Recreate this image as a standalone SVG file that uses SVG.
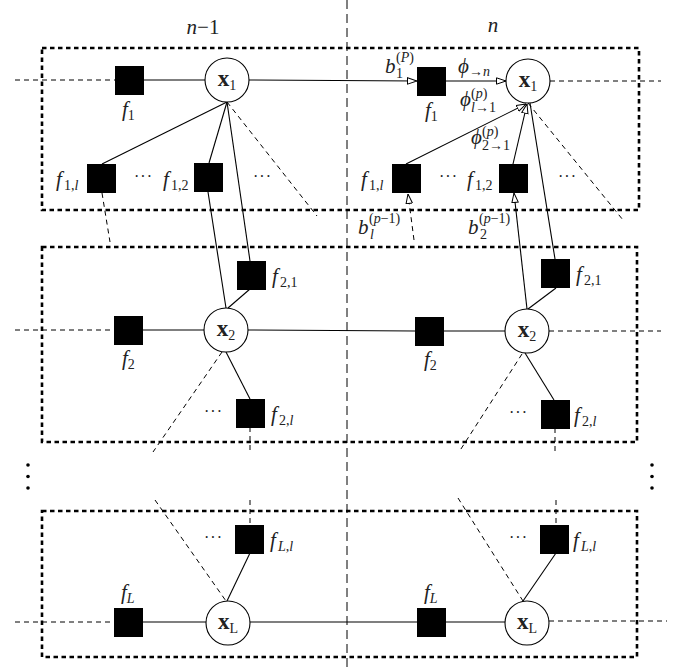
<svg xmlns="http://www.w3.org/2000/svg" width="686" height="672" viewBox="0 0 686 672">
<style>
.box{fill:none;stroke:#000;stroke-width:2.6;stroke-dasharray:4.5 3.5}
.sq{fill:#000}
.cn{fill:#fff;stroke:#000;stroke-width:1.1}
.ln{stroke:#000;stroke-width:1.1;fill:none}
.dl{stroke:#000;stroke-width:1;stroke-dasharray:5 4;fill:none}
.mid{stroke:#000;stroke-width:1;stroke-dasharray:9 5;fill:none}
.t{font-family:"Liberation Serif","DejaVu Serif",serif;font-size:21px;font-style:italic;fill:#222}
.s{font-size:14px}
.u{font-style:normal}
.bx{font-weight:bold;font-style:normal;font-size:23px}
.dots{font-family:"Liberation Serif","DejaVu Serif",serif;font-size:16px;fill:#222;letter-spacing:1px}
</style>
<defs>
<marker id="ah" viewBox="0 0 10 8" refX="10" refY="4" markerWidth="10" markerHeight="8" orient="auto" markerUnits="userSpaceOnUse">
<path d="M0.5,0.8 L10,4 L0.5,7.2 Z" fill="#fff" stroke="#000" stroke-width="1"/>
</marker>
</defs>

<line class="mid" x1="347" y1="0" x2="347" y2="672"/>
<text class="t" x="203" y="34" text-anchor="middle">n<tspan class="u">−1</tspan></text>
<text class="t" x="493" y="32" text-anchor="middle">n</text>

<g id="boxes">
<rect class="box" x="42" y="48" width="597" height="162"/>
<rect class="box" x="42" y="247" width="595" height="195"/>
<rect class="box" x="42" y="511" width="595" height="146"/>
</g>

<g id="connectors">
<line class="dl" x1="15" y1="80" x2="115" y2="80"/>
<line class="ln" x1="144" y1="80" x2="205" y2="80"/>
<line class="ln" x1="249" y1="80" x2="417" y2="81" marker-end="url(#ah)"/>
<line class="ln" x1="446" y1="81" x2="506" y2="81" marker-end="url(#ah)"/>
<line class="dl" x1="550" y1="81" x2="661" y2="81"/>
<line class="ln" x1="227" y1="102" x2="102" y2="164"/>
<line class="ln" x1="227" y1="102" x2="209" y2="163"/>
<line class="ln" x1="227" y1="102" x2="250" y2="261"/>
<line class="dl" x1="227" y1="102" x2="317" y2="216"/>
<line class="dl" x1="102" y1="193" x2="110" y2="242"/>
<line class="ln" x1="208" y1="192" x2="226" y2="308"/>
<line class="ln" x1="250" y1="289" x2="228" y2="308"/>
<line class="dl" x1="15" y1="330" x2="114" y2="330"/>
<line class="ln" x1="143" y1="330" x2="204" y2="330"/>
<line class="ln" x1="248" y1="330" x2="415" y2="331"/>
<line class="ln" x1="444" y1="331" x2="505" y2="331"/>
<line class="dl" x1="549" y1="331" x2="661" y2="331"/>
<line class="ln" x1="226" y1="352" x2="250" y2="399"/>
<line class="dl" x1="222" y1="352" x2="153" y2="452"/>
<line class="dl" x1="250" y1="427" x2="250" y2="452"/>
<line class="dl" x1="155" y1="500" x2="226" y2="601"/>
<line class="dl" x1="250" y1="500" x2="250" y2="525"/>
<line class="ln" x1="250" y1="553" x2="227" y2="601"/>
<line class="dl" x1="15" y1="622" x2="114" y2="622"/>
<line class="ln" x1="143" y1="622" x2="206" y2="622"/>
<line class="ln" x1="250" y1="622" x2="417" y2="622"/>
<line class="ln" x1="446" y1="622" x2="505" y2="622"/>
<line class="dl" x1="549" y1="621" x2="667" y2="621"/>
<line class="ln" x1="406" y1="164" x2="526" y2="104" marker-end="url(#ah)"/>
<line class="ln" x1="513" y1="164" x2="527" y2="104" marker-end="url(#ah)"/>
<line class="ln" x1="530" y1="103" x2="555" y2="259"/>
<line class="dl" x1="528" y1="103" x2="623" y2="220"/>
<line class="dl" x1="414" y1="240" x2="408" y2="194" marker-end="url(#ah)"/>
<line class="ln" x1="527" y1="309" x2="514" y2="193" marker-end="url(#ah)"/>
<line class="ln" x1="528" y1="309" x2="556" y2="288"/>
<line class="ln" x1="525" y1="353" x2="554" y2="400"/>
<line class="dl" x1="522" y1="354" x2="459" y2="452"/>
<line class="dl" x1="555" y1="428" x2="555" y2="452"/>
<line class="dl" x1="458" y1="498" x2="523" y2="601"/>
<line class="dl" x1="556" y1="500" x2="556" y2="525"/>
<line class="ln" x1="556" y1="553" x2="523" y2="601"/>
</g>

<g id="x1-left"><circle class="cn" cx="227" cy="80" r="22"/><text class="t bx" x="227" y="86" text-anchor="middle">x<tspan class="s u" font-weight="normal" dy="4">1</tspan></text></g>
<g id="x1-right"><circle class="cn" cx="528" cy="81" r="22"/><text class="t bx" x="528" y="87" text-anchor="middle">x<tspan class="s u" font-weight="normal" dy="4">1</tspan></text></g>
<g id="x2-left"><circle class="cn" cx="226" cy="330" r="22"/><text class="t bx" x="226" y="336" text-anchor="middle">x<tspan class="s u" font-weight="normal" dy="4">2</tspan></text></g>
<g id="x2-right"><circle class="cn" cx="527" cy="331" r="22"/><text class="t bx" x="527" y="337" text-anchor="middle">x<tspan class="s u" font-weight="normal" dy="4">2</tspan></text></g>
<g id="xL-left"><circle class="cn" cx="228" cy="623" r="22"/><text class="t bx" x="228" y="629" text-anchor="middle">x<tspan class="s" font-weight="normal" dy="4">L</tspan></text></g>
<g id="xL-right"><circle class="cn" cx="527" cy="623" r="22"/><text class="t bx" x="527" y="629" text-anchor="middle">x<tspan class="s" font-weight="normal" dy="4">L</tspan></text></g>

<g id="f1-left"><rect class="sq" x="115" y="66" width="29" height="29"/><text class="t" x="122" y="116">f<tspan class="s u" dy="4">1</tspan></text></g>
<g id="f1-right"><rect class="sq" x="417" y="67" width="29" height="29"/><text class="t" x="425" y="117">f<tspan class="s u" dy="4">1</tspan></text></g>
<g id="f1l-left"><rect class="sq" x="87" y="164" width="29" height="29"/><text class="t" x="56" y="186">f<tspan class="s u" x="64" dy="4">1,</tspan><tspan class="s">l</tspan></text></g>
<g id="f12-left"><rect class="sq" x="194" y="163" width="29" height="29"/><text class="t" x="163" y="186">f<tspan class="s u" x="171" dy="4">1,2</tspan></text></g>
<g id="f1l-right"><rect class="sq" x="392" y="164" width="29" height="29"/><text class="t" x="361" y="186">f<tspan class="s u" x="369" dy="4">1,</tspan><tspan class="s">l</tspan></text></g>
<g id="f12-right"><rect class="sq" x="499" y="164" width="29" height="29"/><text class="t" x="467" y="186">f<tspan class="s u" x="475" dy="4">1,2</tspan></text></g>
<g id="f21-left"><rect class="sq" x="237" y="261" width="29" height="29"/><text class="t" x="272" y="283">f<tspan class="s u" x="280" dy="4">2,1</tspan></text></g>
<g id="f21-right"><rect class="sq" x="541" y="259" width="29" height="29"/><text class="t" x="576" y="281">f<tspan class="s u" x="584" dy="4">2,1</tspan></text></g>
<g id="f2-left"><rect class="sq" x="114" y="316" width="29" height="29"/><text class="t" x="122" y="365">f<tspan class="s u" dy="4">2</tspan></text></g>
<g id="f2-right"><rect class="sq" x="415" y="317" width="29" height="29"/><text class="t" x="424" y="366">f<tspan class="s u" dy="4">2</tspan></text></g>
<g id="f2l-left"><rect class="sq" x="236" y="399" width="29" height="29"/><text class="t" x="271" y="421">f<tspan class="s u" x="279" dy="4">2,</tspan><tspan class="s">l</tspan></text></g>
<g id="f2l-right"><rect class="sq" x="541" y="400" width="29" height="29"/><text class="t" x="574" y="422">f<tspan class="s u" x="582" dy="4">2,</tspan><tspan class="s">l</tspan></text></g>
<g id="fLl-left"><rect class="sq" x="235" y="525" width="29" height="29"/><text class="t" x="270" y="547">f<tspan class="s" x="278" dy="4">L</tspan><tspan class="s u">,</tspan><tspan class="s">l</tspan></text></g>
<g id="fLl-right"><rect class="sq" x="540" y="525" width="29" height="29"/><text class="t" x="573" y="547">f<tspan class="s" x="581" dy="4">L</tspan><tspan class="s u">,</tspan><tspan class="s">l</tspan></text></g>
<g id="fL-left"><rect class="sq" x="114" y="608" width="29" height="29"/><text class="t" x="121" y="599">f<tspan class="s" dy="4">L</tspan></text></g>
<g id="fL-right"><rect class="sq" x="417" y="608" width="29" height="29"/><text class="t" x="424" y="599">f<tspan class="s" dy="4">L</tspan></text></g>

<g id="labels">
<text class="t" x="385" y="73">b<tspan class="s u" x="396" y="78">1</tspan><tspan class="s u" x="396" y="62">(</tspan><tspan class="s">P</tspan><tspan class="s u">)</tspan></text>
<text class="t" x="458" y="73">ϕ<tspan class="s u" x="469" y="76">→</tspan><tspan class="s">n</tspan></text>
<text class="t" x="460" y="106">ϕ<tspan class="s" x="471" y="112">l</tspan><tspan class="s u">→1</tspan><tspan class="s u" x="471" y="98">(</tspan><tspan class="s">p</tspan><tspan class="s u">)</tspan></text>
<text class="t" x="471" y="144">ϕ<tspan class="s u" x="482" y="150">2→1</tspan><tspan class="s u" x="482" y="136">(</tspan><tspan class="s">p</tspan><tspan class="s u">)</tspan></text>
<text class="t" x="358" y="234">b<tspan class="s" x="370" y="239">l</tspan><tspan class="s u" x="369" y="223">(</tspan><tspan class="s">p</tspan><tspan class="s u">−1)</tspan></text>
<text class="t" x="468" y="234">b<tspan class="s u" x="480" y="239">2</tspan><tspan class="s u" x="479" y="223">(</tspan><tspan class="s">p</tspan><tspan class="s u">−1)</tspan></text>
<text class="dots" x="134" y="182">···</text>
<text class="dots" x="253" y="182">···</text>
<text class="dots" x="439" y="182">···</text>
<text class="dots" x="558" y="182">···</text>
<text class="dots" x="204" y="417">···</text>
<text class="dots" x="509" y="418">···</text>
<text class="dots" x="204" y="543">···</text>
<text class="dots" x="509" y="543">···</text>
</g>
<g id="vdots" fill="#000">
<circle cx="28" cy="465" r="1.8"/><circle cx="28" cy="476.5" r="1.8"/><circle cx="28" cy="488" r="1.8"/>
<circle cx="652" cy="465" r="1.8"/><circle cx="652" cy="476.5" r="1.8"/><circle cx="652" cy="488" r="1.8"/>
</g>
</svg>
